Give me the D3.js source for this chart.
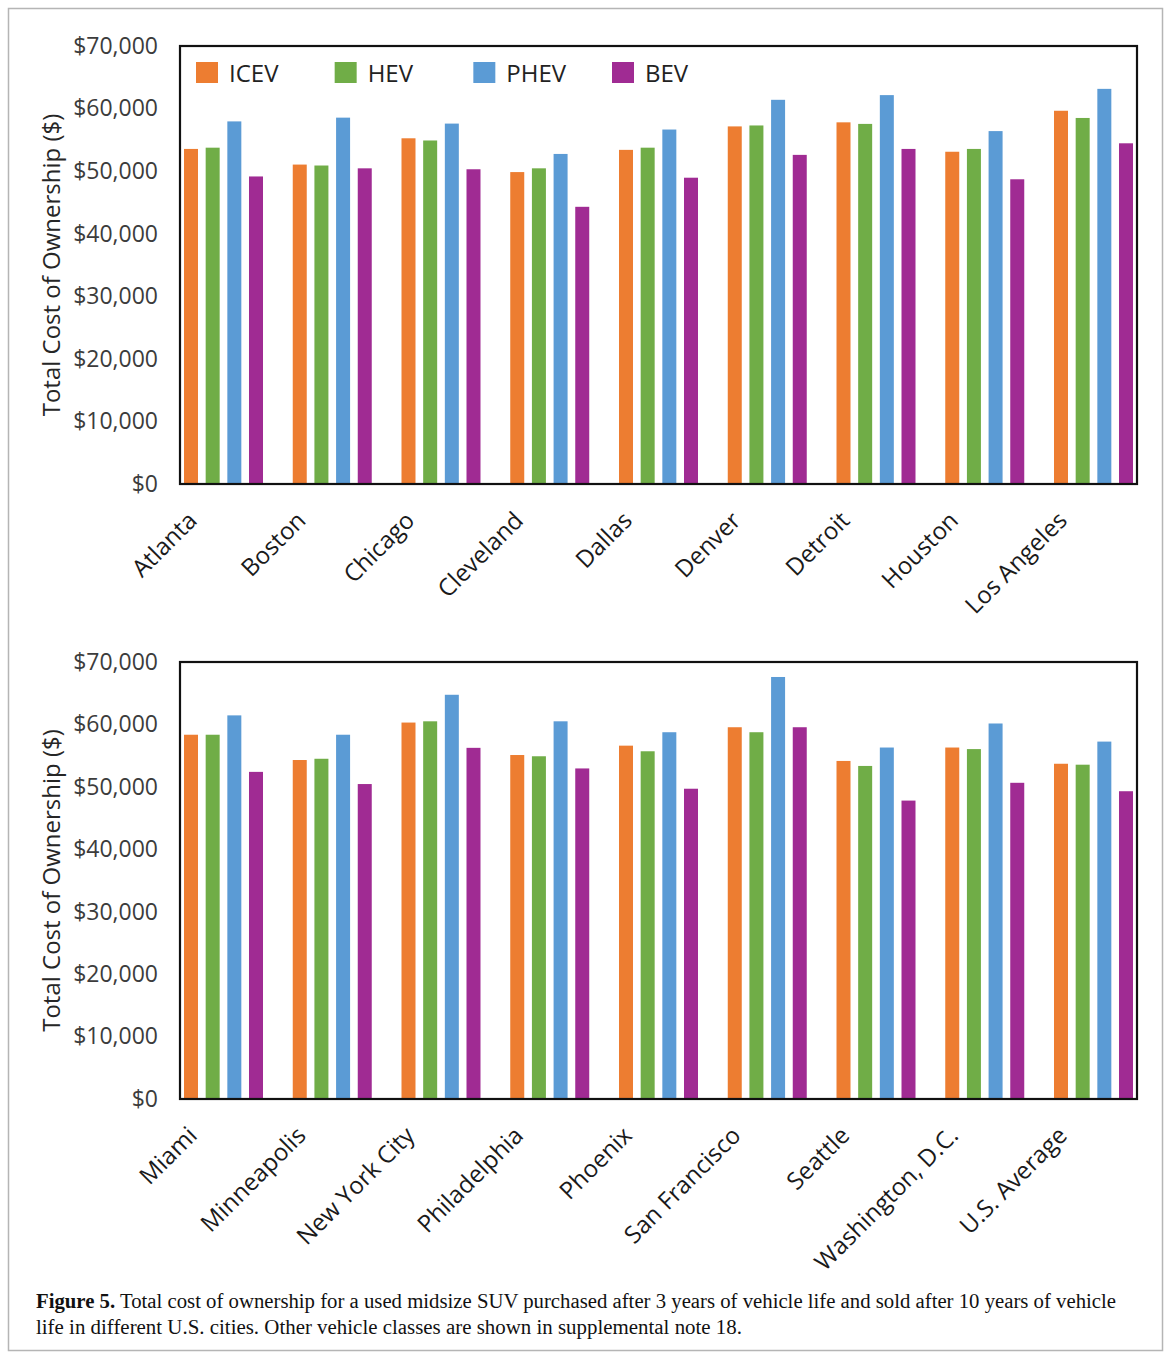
<!DOCTYPE html>
<html>
<head>
<meta charset="utf-8">
<script src="https://cdn.jsdelivr.net/npm/d3@7"></script>
<style>
  html, body { margin: 0; padding: 0; background: #fff; }
  svg { display: block; }
</style>
</head>
<body>
<svg id="fig" width="1171" height="1358"></svg>
<script>
// Vehicle classes (legend order) and their fill colours
const series = ["ICEV", "HEV", "PHEV", "BEV"];
const seriesColors = ["#ED7D31", "#70AD47", "#5B9BD5", "#A02B93"];

// Top panel cities and total cost of ownership (USD)
const citiesTop = ["Atlanta", "Boston", "Chicago", "Cleveland", "Dallas", "Denver", "Detroit", "Houston", "Los Angeles"];
const icevTop = [53550, 51050, 55250, 49850, 53400, 57150, 57800, 53100, 59650];
const hevTop  = [53750, 50900, 54900, 50450, 53750, 57300, 57550, 53550, 58500];
const phevTop = [57950, 58550, 57600, 52750, 56650, 61400, 62150, 56400, 63150];
const bevTop  = [49150, 50450, 50300, 44300, 48950, 52600, 53550, 48700, 54450];

// Bottom panel cities and total cost of ownership (USD)
const citiesBottom = ["Miami", "Minneapolis", "New York City", "Philadelphia", "Phoenix", "San Francisco", "Seattle", "Washington, D.C.", "U.S. Average"];
const icevBottom = [58350, 54300, 60300, 55100, 56600, 59550, 54150, 56300, 53700];
const hevBottom  = [58350, 54500, 60500, 54900, 55700, 58750, 53350, 56050, 53550];
const phevBottom = [61450, 58350, 64750, 60500, 58750, 67600, 56300, 60150, 57250];
const bevBottom  = [52400, 50450, 56250, 52950, 49700, 59550, 47800, 50650, 49300];

// Y axis ticks
const yTicks = [0, 10000, 20000, 30000, 40000, 50000, 60000, 70000];
const yTickLabels = ["$0", "$10,000", "$20,000", "$30,000", "$40,000", "$50,000", "$60,000", "$70,000"];
const yTitle = "Total Cost of Ownership ($)";

const svg = d3.select("#fig");
const FONT = "'Open Sans', 'Noto Sans', sans-serif";

// Figure frame
svg.append("rect")
  .attr("x", 8.5).attr("y", 8.5)
  .attr("width", 1154).attr("height", 1342)
  .attr("fill", "none").attr("stroke", "#b5b5b5").attr("stroke-width", 1.5);

function panel(cfg) {
  const { top, bottom, left, right, cities, values, legend } = cfg;
  const g = svg.append("g");

  const y = d3.scaleLinear().domain([0, 70000]).range([bottom, top]);
  const x0 = d3.scaleBand().domain(cities).range([left + 4, right - 4])
    .paddingInner(0.2736).paddingOuter(0);
  const x1 = d3.scaleBand().domain(series).range([0, x0.bandwidth()])
    .paddingInner(0.354).paddingOuter(0);
  const color = d3.scaleOrdinal().domain(series).range(seriesColors);

  // Bars
  const rows = cities.map((c, i) => ({ city: c, vals: series.map((s, k) => ({ s, v: values[k][i] })) }));
  g.selectAll("g.grp").data(rows).join("g")
    .attr("class", "grp")
    .attr("transform", d => `translate(${x0(d.city)},0)`)
    .selectAll("rect").data(d => d.vals).join("rect")
      .attr("x", d => x1(d.s))
      .attr("y", d => y(d.v))
      .attr("width", x1.bandwidth())
      .attr("height", d => y(0) - y(d.v))
      .attr("fill", d => color(d.s));

  // Y axis labels
  const yAxis = d3.axisLeft(y).tickValues(yTicks)
    .tickFormat((d, i) => yTickLabels[i]).tickSize(0).tickPadding(22);
  const ya = g.append("g").attr("transform", `translate(${left},0)`).call(yAxis);
  ya.select(".domain").remove();
  ya.selectAll("text")
    .attr("font-family", FONT).attr("font-size", 23).attr("fill", "#3c3c3c");

  // Category labels, rotated
  const xAxis = d3.axisBottom(x0).tickSize(0);
  const xa = g.append("g").attr("transform", `translate(0,${bottom})`).call(xAxis);
  xa.select(".domain").remove();
  xa.selectAll("text")
    .attr("x", 0).attr("y", 0).attr("dy", 0)
    .attr("text-anchor", "end")
    .attr("transform", "translate(-25,38) rotate(-45)")
    .attr("font-family", FONT).attr("font-size", 24).attr("fill", "#1a1a1a");

  // Y title
  g.append("text")
    .attr("transform", `translate(60,${(top + bottom) / 2}) rotate(-90)`)
    .attr("text-anchor", "middle")
    .attr("font-family", FONT).attr("font-size", 24).attr("fill", "#262626")
    .text(yTitle);

  // Plot frame
  g.append("rect")
    .attr("x", left).attr("y", top)
    .attr("width", right - left).attr("height", bottom - top)
    .attr("fill", "none").attr("stroke", "#111").attr("stroke-width", 2.2);

  // Legend
  if (legend) {
    const lx = d3.scalePoint().domain(series).range([196, 612]);
    const li = g.append("g").selectAll("g").data(series).join("g")
      .attr("transform", d => `translate(${lx(d)},62)`);
    li.append("rect").attr("width", 22).attr("height", 21).attr("fill", d => color(d));
    li.append("text").attr("x", 33).attr("y", 20)
      .attr("font-family", FONT).attr("font-size", 24).attr("fill", "#222")
      .text(d => d);
  }
}

panel({ top: 46, bottom: 484, left: 180, right: 1137, cities: citiesTop,
        values: [icevTop, hevTop, phevTop, bevTop], legend: true });
panel({ top: 662, bottom: 1099, left: 180, right: 1137, cities: citiesBottom,
        values: [icevBottom, hevBottom, phevBottom, bevBottom], legend: false });

// Caption
const cap = svg.append("g").attr("font-family", "'Liberation Serif', 'DejaVu Serif', serif")
  .attr("font-size", 20).attr("fill", "#111");
const l1 = cap.append("text").attr("x", 36).attr("y", 1308)
  .attr("textLength", 1080).attr("lengthAdjust", "spacingAndGlyphs");
l1.append("tspan").attr("font-weight", "bold").text("Figure 5.");
l1.append("tspan").text(" Total cost of ownership for a used midsize SUV purchased after 3 years of vehicle life and sold after 10 years of vehicle");
cap.append("text").attr("x", 36).attr("y", 1334)
  .attr("textLength", 706).attr("lengthAdjust", "spacingAndGlyphs")
  .text("life in different U.S. cities. Other vehicle classes are shown in supplemental note 18.");
</script>
</body>
</html>
